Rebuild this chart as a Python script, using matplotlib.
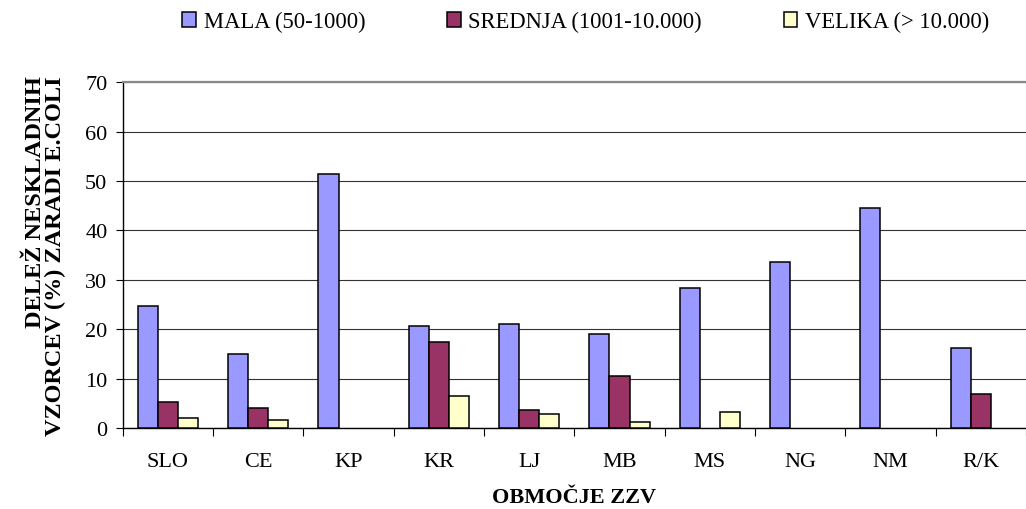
import matplotlib
matplotlib.use("Agg")
import matplotlib.pyplot as plt
from matplotlib.patches import Patch
import numpy as np

# podatki, odčitani s slike
obmocja = ["SLO", "CE", "KP", "KR", "LJ", "MB", "MS", "NG", "NM", "R/K"]
mala = [24.7, 15.0, 51.4, 20.6, 21.0, 19.0, 28.3, 33.7, 44.5, 16.3]
srednja = [5.3, 4.0, 0, 17.4, 3.7, 10.5, 0, 0, 0, 6.9]
velika = [2.0, 1.7, 0, 6.5, 2.8, 1.2, 3.3, 0, 0, 0]
serije = ["MALA (50-1000)", "SREDNJA (1001-10.000)", "VELIKA (> 10.000)"]
barve = ["#9999FF", "#993366", "#FFFFCC"]

plt.rcParams["font.family"] = ["Liberation Serif", "DejaVu Serif"]

fig = plt.figure(figsize=(10.26, 5.10), dpi=100)
ax = fig.add_axes([0.1196, 0.1588, 1.0 - 0.1196, 0.8367 - 0.1588])

x = np.arange(len(obmocja))
w = 0.222
for i, vals in enumerate([mala, srednja, velika]):
    v = np.array(vals, dtype=float)
    m = v > 0
    ax.bar(x[m] + (i - 1) * w, v[m], width=w, color=barve[i],
           edgecolor="black", linewidth=1.1, zorder=3)

ax.set_ylim(0, 70)
ax.set_yticks(range(0, 71, 10))
ax.set_xlim(-0.5, 9.478)
ax.set_xticks(x)
ax.set_xticklabels(obmocja)
ax.set_xticks(np.arange(-0.5, 10, 1), minor=True)
ax.tick_params(axis="x", which="major", length=0, pad=17, labelsize=16)
ax.tick_params(axis="x", which="minor", length=6, width=0.8, direction="out")
ax.tick_params(axis="y", length=5, width=0.8, labelsize=16, pad=6)

ax.yaxis.grid(True, color="#333333", linewidth=0.8)
ax.set_axisbelow(True)
ax.spines["right"].set_visible(False)
ax.spines["top"].set_color("#888888")
ax.spines["top"].set_linewidth(1.6)
ax.spines["left"].set_linewidth(1.0)
ax.spines["bottom"].set_linewidth(1.0)

ax.set_xlabel("OBMOČJE ZZV", fontsize=16, fontweight="bold", labelpad=12)
ax.set_ylabel("DELEŽ NESKLADNIH\nVZORCEV (%) ZARADI E.COLI", fontsize=17.5,
              fontweight="bold", labelpad=14, linespacing=0.9,
              multialignment="right")

handles = [Patch(facecolor=barve[i], edgecolor="black", linewidth=1.1)
           for i in range(3)]
fig.legend(handles, serije, loc="center", bbox_to_anchor=(0.571, 0.955),
           ncol=3, frameon=False, fontsize=16.3, handlelength=0.6,
           handleheight=0.6, handletextpad=0.35, columnspacing=3.6)

fig.savefig("out.png", dpi=100)
